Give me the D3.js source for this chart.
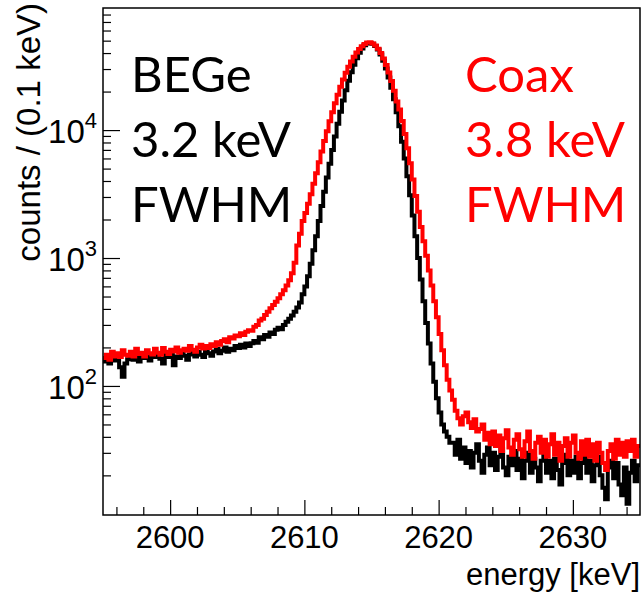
<!DOCTYPE html>
<html><head><meta charset="utf-8">
<script src="https://cdn.jsdelivr.net/npm/d3@7"></script>
<style>body{margin:0;background:#fff}</style>
</head><body>
<svg id="c" width="643" height="593"></svg>
<script>
// ---- data (counts per bin) ----
const binStart = 2595.0;
const binWidth = 0.2;
const begeCounts = [
  155,160,150,165,158,170,140,118,150,162,
  172,160,168,155,175,165,170,158,178,168,
  172,163,150,175,168,180,145,170,165,178,
  172,160,176,182,170,185,175,168,190,180,
  172,186,195,180,188,200,185,195,190,205,
  198,210,200,215,205,216,225,218,240,232,
  250,242,262,255,275,285,278,300,318,335,
  355,380,410,450,520,600,720,900,1150,1480,
  1950,2550,3300,4250,5450,7000,8900,11200,13900,17000,
  20500,24300,28300,32400,36400,40200,43500,46000,47600,48000,
  47300,45500,42700,39000,34800,30300,25800,21400,17400,13800,
  10700,8100,6000,4350,3100,2150,1480,1000,680,460,
  310,215,150,108,80,62,50,44,40,36,
  36,29,38,27,33,25,31,23,30,35,
  26,21,29,33,24,30,22,28,32,23,
  20,28,24,31,22,27,19,26,30,21,
  27,23,18,26,29,21,26,19,27,22,
  17,25,29,20,26,21,28,19,25,30,
  21,26,18,24,28,20,16,13,23,26,
  19,25,17,14,23,12,21,26,18,24
];
const coaxCounts = [
  165,175,160,185,170,180,168,190,175,172,
  185,170,195,178,182,170,190,180,176,195,
  182,175,198,185,178,192,186,200,182,190,
  195,188,205,192,185,200,210,196,205,198,
  212,205,220,210,225,232,220,240,235,248,
  245,258,250,265,272,270,290,300,325,335,
  358,380,405,430,455,485,520,560,610,670,
  760,920,1250,1550,1950,2250,2650,3150,3800,4600,
  5600,6800,8200,9800,11700,13800,16200,18900,21800,24800,
  28000,31200,34400,37500,40400,43000,45200,47000,48300,48500,
  47600,45800,43200,40000,36300,32300,28200,24200,20300,16700,
  14500,11800,9300,7200,5500,4100,3050,2300,1750,1350,
  1040,800,610,460,345,255,190,145,112,92,
  78,64,56,50,58,62,52,47,55,44,
  46,50,38,43,35,44,34,41,31,39,
  45,33,29,38,42,32,28,37,44,31,
  27,36,40,30,38,28,35,42,29,36,
  26,34,39,28,36,41,30,27,37,29,
  38,28,35,26,36,30,25,22,31,35,
  27,38,29,36,28,37,31,38,28,34
];
const xDomain = [2595, 2635];
const yDomain = [9.8, 90000];
const xMajorTicks = [2600, 2610, 2620, 2630];
const yDecadeExps = [2, 3, 4];
const xTitle = "energy [keV]";
const yTitle = "counts / (0.1 keV)";
const begeLabel = ["BEGe", "3.2 keV", "FWHM"];
const coaxLabel = ["Coax", "3.8 keV", "FWHM"];
const seriesColors = {bege: "#000000", coax: "#ff0000"};

// ---- layout ----
const svg = d3.select("#c");
const m = {l: 103, r: 640, t: 8, b: 515};
const x = d3.scaleLinear().domain(xDomain).range([m.l, m.r]);
const y = d3.scaleLog().domain(yDomain).range([m.b, m.t]);
const axisFont = "'Liberation Sans', Arial, Helvetica, sans-serif";
const noteFont = "Lato, 'Open Sans', sans-serif";

svg.append("defs").append("clipPath").attr("id", "clip")
  .append("rect").attr("x", m.l).attr("y", m.t).attr("width", m.r - m.l).attr("height", m.b - m.t);

// histograms
function stepPoints(counts) {
  const pts = [];
  counts.forEach((c, i) => {
    const e0 = binStart + i * binWidth;
    pts.push([e0, c], [e0 + binWidth, c]);
  });
  return pts;
}
const line = d3.line().x(d => x(d[0])).y(d => y(d[1]));
const g = svg.append("g").attr("clip-path", "url(#clip)");
g.append("path").datum(stepPoints(begeCounts)).attr("d", line)
  .attr("fill", "none").attr("stroke", seriesColors.bege).attr("stroke-width", 4).attr("stroke-linejoin", "miter");
g.append("path").datum(stepPoints(coaxCounts)).attr("d", line)
  .attr("fill", "none").attr("stroke", seriesColors.coax).attr("stroke-width", 4).attr("stroke-linejoin", "miter");

// axes (ticks inward)
const xMinorTicks = d3.range(2596, 2635, 2).filter(v => v % 10 !== 0);
svg.append("g").attr("transform", `translate(0,${m.b})`)
  .call(d3.axisBottom(x).tickValues(xMajorTicks).tickSize(-15).tickFormat(""))
  .call(s => s.select(".domain").remove());
svg.append("g").attr("transform", `translate(0,${m.b})`)
  .call(d3.axisBottom(x).tickValues(xMinorTicks).tickSize(-8).tickFormat(""))
  .call(s => s.select(".domain").remove());

const yMajor = yDecadeExps.map(e => Math.pow(10, e));
const yMinor = [];
for (let e = 1; e <= 4; e++) for (let k = 2; k <= 9; k++) {
  const v = k * Math.pow(10, e);
  if (v > yDomain[0] && v < yDomain[1]) yMinor.push(v);
}
svg.append("g").attr("transform", `translate(${m.l},0)`)
  .call(d3.axisLeft(y).tickValues(yMajor).tickSize(-17).tickFormat(""))
  .call(s => s.select(".domain").remove());
svg.append("g").attr("transform", `translate(${m.l},0)`)
  .call(d3.axisLeft(y).tickValues(yMinor).tickSize(-8).tickFormat(""))
  .call(s => s.select(".domain").remove());
svg.selectAll(".tick line").attr("stroke", "#000").attr("stroke-width", 1.2);

// frame
svg.append("rect").attr("x", m.l).attr("y", m.t).attr("width", m.r - m.l).attr("height", m.b - m.t)
  .attr("fill", "none").attr("stroke", "#000").attr("stroke-width", 1.5);

// tick labels
svg.append("g").selectAll("text").data(xMajorTicks).join("text")
  .attr("x", d => x(d)).attr("y", 548).attr("text-anchor", "middle")
  .attr("font-family", axisFont).attr("font-size", 31).text(d => d);

const yl = svg.append("g").selectAll("text").data(yDecadeExps).join("text")
  .attr("x", 97).attr("y", d => y(Math.pow(10, d)) + 13).attr("text-anchor", "end")
  .attr("font-family", axisFont).attr("font-size", 33);
yl.append("tspan").text("10");
yl.append("tspan").attr("dy", -15).attr("font-size", 22).text(d => d);

// titles
svg.append("text").attr("x", 640).attr("y", 585).attr("text-anchor", "end")
  .attr("font-family", axisFont).attr("font-size", 31).text(xTitle);
svg.append("text").attr("transform", "translate(40,3) rotate(-90)").attr("text-anchor", "end")
  .attr("font-family", axisFont).attr("font-size", 33).text(yTitle);

// annotations
svg.append("g").selectAll("text").data(begeLabel).join("text")
  .attr("x", 131).attr("y", (d, i) => 92 + i * 65)
  .attr("font-family", noteFont).attr("font-size", 49).attr("fill", seriesColors.bege).text(d => d);
svg.append("g").selectAll("text").data(coaxLabel).join("text")
  .attr("x", 465).attr("y", (d, i) => 92 + i * 65)
  .attr("font-family", noteFont).attr("font-size", 49).attr("fill", seriesColors.coax).text(d => d);
</script>
</body></html>
